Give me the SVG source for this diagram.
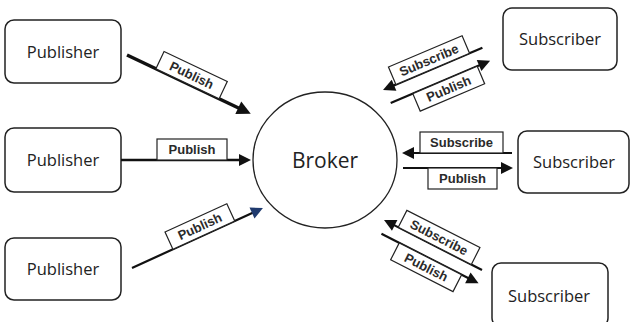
<svg xmlns="http://www.w3.org/2000/svg" xmlns:xlink="http://www.w3.org/1999/xlink" width="630" height="322" viewBox="0 0 630 322">
<style>
.node{fill:#fff;stroke:#222;stroke-width:1.5}
.ntext{font-family:"Open Sans","Liberation Sans",sans-serif;font-size:16.5px;fill:#222;text-anchor:middle}
.btext{font-family:"Open Sans","Liberation Sans",sans-serif;font-size:21px;fill:#222;text-anchor:middle}
.conn line{stroke:#111;stroke-width:2.2}
.lbl{fill:#fff;stroke:#222;stroke-width:1.2}
.ltext{font-family:"Liberation Sans",Arial,sans-serif;font-weight:bold;font-size:13px;fill:#2a2a2a;text-anchor:middle}
.ah{fill:#111}
</style>
<defs>
<path id="ah" d="M0,0 L-12,-6 L-12,6 Z"/>
</defs>
<rect width="630" height="322" fill="#fff"/>

<g id="pub1"><rect class="node" x="5" y="20" width="116" height="63" rx="9"/><text class="ntext" x="63" y="58">Publisher</text></g>
<g id="pub2"><rect class="node" x="5" y="128" width="116" height="64" rx="9"/><text class="ntext" x="63" y="166">Publisher</text></g>
<g id="pub3"><rect class="node" x="5" y="238" width="116" height="62" rx="9"/><text class="ntext" x="63" y="275">Publisher</text></g>
<g id="broker"><ellipse cx="325" cy="160" rx="72" ry="68" fill="#fff" stroke="#222" stroke-width="1.3"/><text class="btext" x="325" y="168">Broker</text></g>
<g id="sub1"><rect class="node" x="503" y="8" width="114" height="62" rx="9"/><text class="ntext" x="560" y="45">Subscriber</text></g>
<g id="sub2"><rect class="node" x="518" y="131" width="111" height="62" rx="9"/><text class="ntext" x="574" y="168">Subscriber</text></g>
<g id="sub3"><rect class="node" x="492" y="263" width="116" height="64" rx="9"/><text class="ntext" x="549" y="302">Subscriber</text></g>

<g id="connectors" class="conn">
 <g transform="translate(127,55) rotate(25.4)">
  <line x1="0" y1="0" x2="127" y2="0" style="stroke-width:3.5"/>
  <use href="#ah" class="ah" transform="translate(137,0) scale(1.15)"/>
  <rect class="lbl" x="32" y="-19" width="70" height="19"/>
  <text class="ltext" x="67" y="-5">Publish</text>
 </g>
 <g>
  <line x1="121" y1="160" x2="241" y2="160" style="stroke-width:2.6"/>
  <use href="#ah" class="ah" transform="translate(251,160)"/>
  <rect class="lbl" x="157" y="139" width="70" height="21"/>
  <text class="ltext" x="192" y="154">Publish</text>
 </g>
 <g transform="translate(132,268) rotate(-24.6)">
  <line x1="0" y1="0" x2="134" y2="0"/>
  <use href="#ah" transform="translate(144,0)" style="fill:#1f3a6e"/>
  <rect class="lbl" x="45" y="-19" width="68" height="19"/>
  <text class="ltext" x="79" y="-5">Publish</text>
 </g>
 <g transform="translate(383,90) rotate(-23)">
  <line x1="8" y1="0" x2="108" y2="0"/>
  <use href="#ah" class="ah" transform="rotate(180)"/>
  <rect class="lbl" x="14" y="-19" width="80" height="19"/>
  <text class="ltext" x="54" y="-5">Subscribe</text>
  <line x1="2" y1="15" x2="101" y2="15"/>
  <use href="#ah" class="ah" transform="translate(110,15)"/>
  <rect class="lbl" x="26" y="15" width="70" height="19"/>
  <text class="ltext" x="61" y="29">Publish</text>
 </g>
 <g>
  <line x1="410" y1="153" x2="512" y2="153"/>
  <use href="#ah" class="ah" transform="translate(402,153) rotate(180)"/>
  <rect class="lbl" x="420" y="132" width="83" height="21"/>
  <text class="ltext" x="461.5" y="147">Subscribe</text>
  <line x1="403" y1="168" x2="504" y2="168"/>
  <use href="#ah" class="ah" transform="translate(513,168)"/>
  <rect class="lbl" x="428" y="168" width="69" height="21"/>
  <text class="ltext" x="462.5" y="183">Publish</text>
 </g>
 <g transform="translate(384,220) rotate(27)">
  <line x1="8" y1="0" x2="110" y2="0"/>
  <use href="#ah" class="ah" transform="rotate(180)"/>
  <rect class="lbl" x="16" y="-19" width="82" height="19"/>
  <text class="ltext" x="57" y="-5">Subscribe</text>
  <line x1="4" y1="13.5" x2="104" y2="13.5"/>
  <use href="#ah" class="ah" transform="translate(113,13.5)"/>
  <rect class="lbl" x="24" y="13.5" width="70" height="19"/>
  <text class="ltext" x="59" y="27.5">Publish</text>
 </g>
</g>
</svg>
